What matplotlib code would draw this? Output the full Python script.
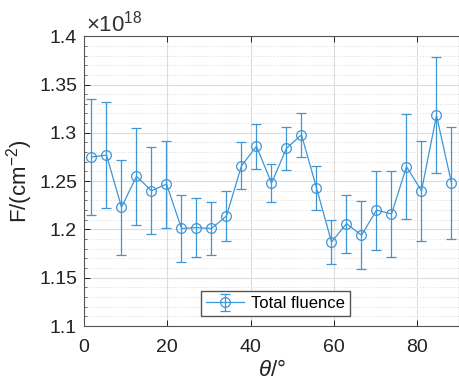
import numpy as np
import matplotlib
matplotlib.use("Agg")
import matplotlib.pyplot as plt
from matplotlib.ticker import MultipleLocator

plt.rcParams['font.family'] = ['Liberation Sans', 'DejaVu Sans']
plt.rcParams['mathtext.fontset'] = 'custom'
plt.rcParams['mathtext.rm'] = 'Liberation Sans'
plt.rcParams['mathtext.it'] = 'Liberation Sans:italic'

# angle bin centres (deg)
theta = [1.8, 5.4, 9.0, 12.6, 16.2, 19.8, 23.4, 27.0, 30.6, 34.2, 37.8, 41.4, 45.0,
         48.6, 52.2, 55.8, 59.4, 63.0, 66.6, 70.2, 73.8, 77.4, 81.0, 84.6, 88.2]
# total fluence, units of 1e18 cm^-2
fluence = [1.275, 1.277, 1.223, 1.255, 1.240, 1.247, 1.201, 1.202, 1.201, 1.214,
           1.266, 1.286, 1.248, 1.284, 1.298, 1.243, 1.187, 1.206, 1.194, 1.220,
           1.216, 1.265, 1.240, 1.318, 1.248]
err = [0.060, 0.055, 0.049, 0.050, 0.045, 0.045, 0.035, 0.031, 0.027, 0.026,
       0.024, 0.023, 0.020, 0.022, 0.023, 0.023, 0.023, 0.030, 0.035, 0.041,
       0.044, 0.054, 0.052, 0.060, 0.058]

blue = '#3d96d6'

fig = plt.figure(figsize=(4.59, 3.85), dpi=100)
ax = fig.add_axes([0.183, 0.153, 0.817, 0.753])

ax.errorbar(theta, fluence, yerr=err, color=blue, lw=0.9, marker='o', ms=7,
            mfc='none', mec=blue, mew=0.9, capsize=3.5, capthick=0.9, elinewidth=0.9,
            label='Total fluence')

ax.set_xlim(0, 90)
ax.set_ylim(1.1, 1.4)
ax.xaxis.set_major_locator(MultipleLocator(20))
ax.yaxis.set_major_locator(MultipleLocator(0.05))
ax.yaxis.set_minor_locator(MultipleLocator(0.01))
ax.set_yticklabels([f'{v:g}' for v in ax.get_yticks()])

ax.grid(which='major', color='#dcdcdc', lw=0.8)
ax.grid(which='minor', axis='y', color='#d8d8d8', lw=0.7, ls=(0, (1, 2)))
ax.set_axisbelow(True)

for s in ax.spines.values():
    s.set_color('#555555')
    s.set_linewidth(0.8)
ax.tick_params(direction='in', labelsize=14, colors='#222222', length=4, width=0.7,
               right=False, top=True)
ax.tick_params(axis='x', pad=9)
ax.tick_params(axis='y', pad=5)
ax.tick_params(which='minor', direction='in', length=2.5, width=0.6, color='#555555')
ax.tick_params(axis='x', which='minor', bottom=False, top=False)

ax.text(0.005, 1.0, r'$\times10^{18}$', transform=ax.transAxes, fontsize=16,
        color='#333333', ha='left', va='bottom')

ax.set_ylabel(r'F/(cm$^{-2}$)', fontsize=16, color='#222222', labelpad=3)
ax.set_xlabel(r'$\theta$/°', fontsize=16, color='#222222', labelpad=3)

ax.legend(loc='lower center', bbox_to_anchor=(0.51, 0.0), fontsize=12,
          frameon=True, fancybox=False, edgecolor='#555555', framealpha=1,
          handlelength=2.3, borderpad=0.3, handletextpad=0.4, borderaxespad=0.6)

fig.savefig('out.png', dpi=100)
